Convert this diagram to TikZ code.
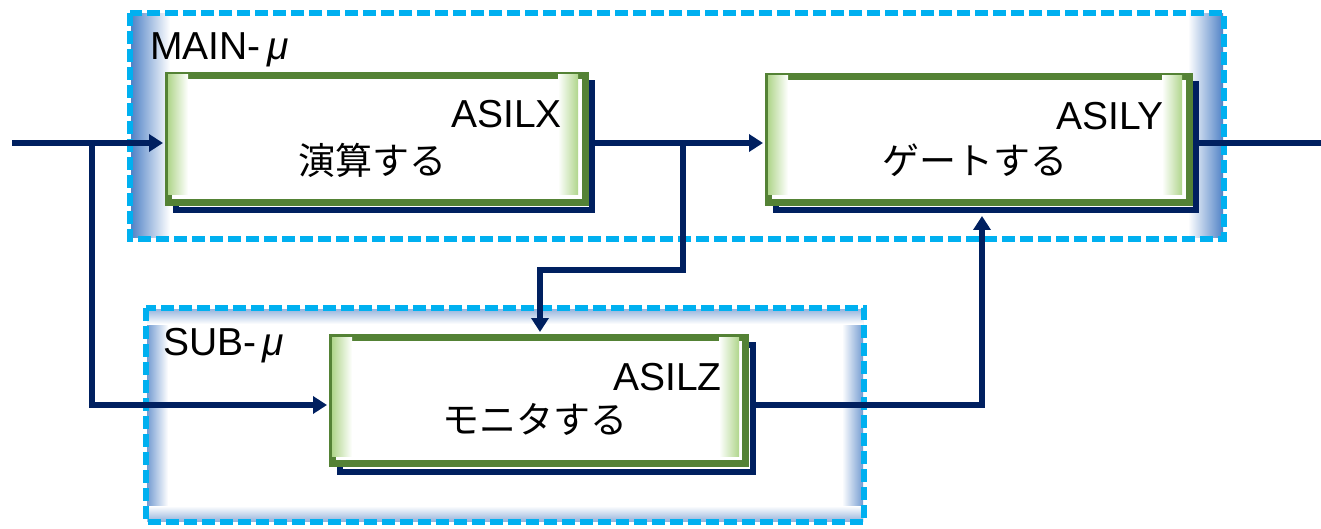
\documentclass[tikz,border=0pt]{standalone}
\usepackage{fontspec}
\setmainfont{Liberation Sans}
\newfontfamily\jp{Noto Sans CJK JP}
\usetikzlibrary{arrows.meta}
\definecolor{navy}{RGB}{0,32,96}
\definecolor{grn}{RGB}{84,130,53}
\definecolor{lgrn}{RGB}{176,214,140}
\definecolor{cyn}{RGB}{0,176,240}
\definecolor{blu}{RGB}{80,130,198}
\begin{document}
\begin{tikzpicture}[x=1pt,y=-1pt,
  grp/.style={draw=cyn, line width=6pt, dash pattern=on 13pt off 5pt},
  blk/.style={draw=grn, line width=7pt, fill=white, rectangle, inner sep=0pt, anchor=north west},
  shd/.style={draw=navy, line width=6pt, rectangle, inner sep=0pt, anchor=north west},
  conn/.style={draw=navy, line width=6pt},
  arr/.style={conn, -{Triangle[length=14pt,width=17pt]}},
  lbl/.style={font=\fontsize{39}{42}\selectfont, inner sep=0pt},
  jlbl/.style={font=\jp\fontsize{37}{40}\selectfont, inner sep=0pt}]
\useasboundingbox (0,0) rectangle (1321,529);

% ---- MAIN group
\shade[left color=blu, right color=white] (131,14) rectangle (170,238);
\shade[left color=white, right color=blu] (1188,14) rectangle (1223,238);
\draw[grp] (130,13) rectangle (1224,239);
\node[lbl, anchor=base west] (mainlbl) at (150,60) {MAIN-\,\textit{μ}};

% ---- SUB group
\shade[left color=blu!80, right color=white] (147,309) rectangle (168,521);
\shade[left color=white, right color=blu!80] (842,309) rectangle (863,521);
\shade[top color=blu!60, bottom color=white] (147,309) rectangle (863,324);
\shade[top color=white, bottom color=blu!60] (147,506) rectangle (863,521);
\draw[grp] (146,308) rectangle (864,522);
\node[lbl, anchor=base west] (sublbl) at (163,355) {SUB-\,\textit{μ}};

% ---- coordinates
\coordinate (in) at (12,143);
\coordinate (b1) at (92,143);
\coordinate (zin) at (92,405);
\coordinate (b2) at (683,143);
\coordinate (c1) at (683,270);
\coordinate (c2) at (540,270);
\coordinate (zo) at (982,405);
\coordinate (out) at (1321,143);

% ---- shadows
\node[shd, minimum width=416pt, minimum height=127pt] (Xs) at (173,80) {};
\node[shd, minimum width=420pt, minimum height=126pt] (Ys) at (773,81) {};
\node[shd, minimum width=413pt, minimum height=127pt] (Zs) at (337,342) {};

% ---- blocks
\node[blk, minimum width=417pt, minimum height=127pt] (X) at (165,72) {};
\shade[left color=lgrn, right color=white] (168,75) rectangle (188,195);
\shade[left color=white, right color=lgrn] (558,75) rectangle (578,195);
\node[lbl, anchor=base east] (tX) at (562,128) {ASILX};
\node[jlbl, anchor=base] (fX) at (372,175) {演算する};

\node[blk, minimum width=421pt, minimum height=126pt] (Y) at (765,73) {};
\shade[left color=lgrn, right color=white] (768,76) rectangle (788,195);
\shade[left color=white, right color=lgrn] (1162,76) rectangle (1182,195);
\node[lbl, anchor=base east] (tY) at (1164,130) {ASILY};
\node[jlbl, anchor=base] (fY) at (975,175) {ゲートする};

\node[blk, minimum width=413pt, minimum height=126pt] (Z) at (329,334) {};
\shade[left color=lgrn, right color=white] (332,337) rectangle (352,456);
\shade[left color=white, right color=lgrn] (719,337) rectangle (739,456);
\node[lbl, anchor=base east] (tZ) at (722,390) {ASILZ};
\node[jlbl, anchor=base] (fZ) at (535,433) {モニタする};

% ---- connectors
\draw[arr] (in) -- ([xshift=-2pt]in -| X.west);
\draw[arr] (b1) -- (zin) -- ([xshift=-2pt]zin -| Z.west);
\draw[conn] ([xshift=-3pt]Xs.east |- in) -- (b2);
\draw[arr] (b2) -- ([xshift=-2pt]b2 -| Y.west);
\draw[arr] (b2) -- (c1) -- (c2) -- ([yshift=2pt]c2 |- Z.north);
\draw[arr] ([xshift=-3pt]Zs.east |- zin) -- (zo) -- ([yshift=-3pt]zo |- Ys.south);
\draw[conn] ([xshift=-3pt]Ys.east |- out) -- (out);
\end{tikzpicture}
\end{document}
